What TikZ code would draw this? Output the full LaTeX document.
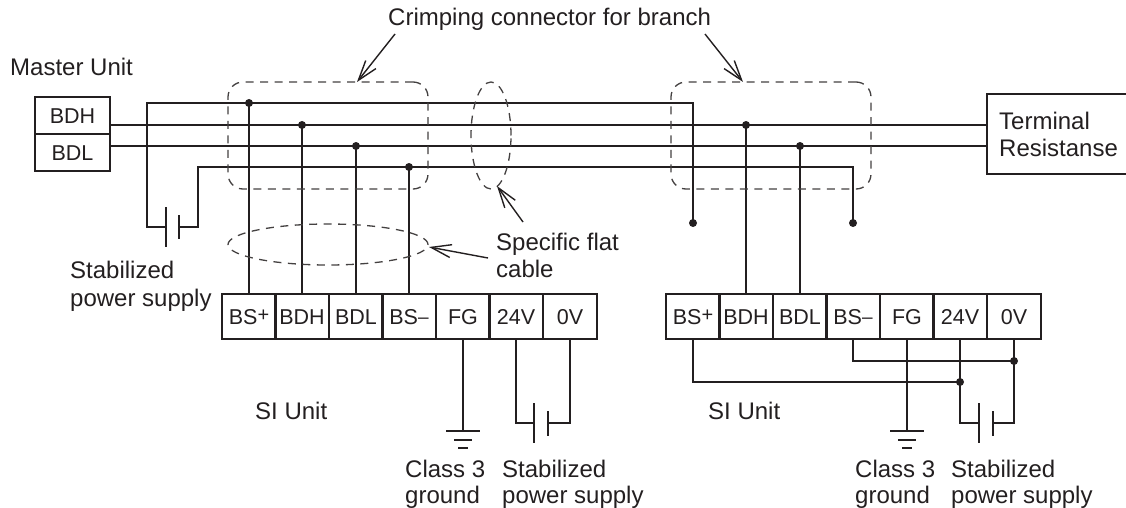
\documentclass[tikz,border=0pt]{standalone}
\usepackage{fontspec}
\setmainfont{Liberation Sans}
\usetikzlibrary{arrows.meta,shapes.geometric}
\definecolor{ink}{HTML}{231F20}
\tikzset{
  wire/.style={line width=2pt,draw=ink},
  dashbox/.style={draw=ink!85,line width=1.3pt,dash pattern=on 8pt off 6.5pt,inner sep=0pt},
  crimp/.style={dashbox,rectangle,rounded corners=15pt,minimum width=200pt,minimum height=107pt},
  oval/.style={dashbox,ellipse},
  pointer/.style={line width=1.4pt,draw=ink,-{Straight Barb[length=20pt,width=13pt,line width=1.4pt]}},
  joint/.style={circle,fill=ink,draw=none,inner sep=0pt,minimum size=8pt},
  lbl/.style={anchor=base west,inner sep=0pt,text=ink,font=\fontsize{24}{24}\selectfont},
  cell/.style={draw=ink,line width=2pt,rectangle,inner sep=0pt,text=ink,font=\fontsize{21.5}{21.5}\selectfont,
    text height=15.5pt,text depth=0pt,minimum height=45pt,minimum width=53.5pt},
  mcell/.style={cell,minimum width=75pt,minimum height=37pt},
  plate/.style={line width=2pt,draw=ink},
}
\newcommand{\bsplus}{BS\raisebox{2.5pt}{\fontsize{20}{20}\selectfont +}}
\newcommand{\bsminus}{BS\raisebox{0.5pt}{\fontsize{19}{19}\selectfont –}}
\begin{document}
\begin{tikzpicture}[x=1pt,y=-1pt]
\useasboundingbox (0,0) rectangle (1126,508);
% texts
\node[lbl] (tcrimp) at (388,26) {Crimping connector for branch};
\node[lbl] (tmaster) at (10,76) {Master Unit};
\node[lbl] (tstab1) at (70,278) {Stabilized};
\node[lbl] (tstab2) at (70,306) {power supply};
\node[lbl] (tflat1) at (496,250) {Specific flat};
\node[lbl] (tflat2) at (496,277) {cable};
\node[lbl] (tsi1) at (255,419) {SI Unit};
\node[lbl] (tsi2) at (708,419) {SI Unit};
\node[lbl] (tcl1a) at (405,477) {Class 3};
\node[lbl] (tcl1b) at (405,503) {ground};
\node[lbl] (tst1a) at (502,477) {Stabilized};
\node[lbl] (tst1b) at (502,503) {power supply};
\node[lbl] (tcl2a) at (855,477) {Class 3};
\node[lbl] (tcl2b) at (855,503) {ground};
\node[lbl] (tst2a) at (951,477) {Stabilized};
\node[lbl] (tst2b) at (951,503) {power supply};
% master and terminal resistance
\node[mcell] (mh) at (72.5,115.5) {BDH};
\node[mcell] (ml) at (72.5,152.5) {BDL};
\node[inner sep=0pt,minimum width=139pt,minimum height=80pt] (tr) at (1056.5,134) {};
\draw[wire] (tr.north east) -- (tr.north west) -- (tr.south west) -- (tr.south east);
\node[lbl] (tr1) at (999,129) {Terminal};
\node[lbl] (tr2) at (999,156) {Resistanse};
% terminal blocks
\foreach \n/\t/\x in {bsp/\bsplus/249,bdh/BDH/302,bdl/BDL/356,bsm/\bsminus/409,fg/FG/463,vp/24V/516,vz/0V/570}{
  \node[cell] (l\n) at (\x,316.5) {\t};
}
\foreach \n/\t/\x in {bsp/\bsplus/693,bdh/BDH/746,bdl/BDL/800,bsm/\bsminus/853,fg/FG/907,vp/24V/960,vz/0V/1014}{
  \node[cell] (r\n) at (\x,316.5) {\t};
}
% coordinates
\coordinate (w1a) at (147,103);
\coordinate (w1b) at (693,103);
\coordinate (w2a) at (110,125);
\coordinate (w2b) at (987,125);
\coordinate (w3a) at (110,146);
\coordinate (w3b) at (987,146);
\coordinate (w4a) at (198,167);
\coordinate (w4b) at (853,167);
% joints
\node[joint] (j1) at (249,103) {};
\node[joint] (j2) at (302,125) {};
\node[joint] (j3) at (356,146) {};
\node[joint] (j4) at (409,167) {};
\node[joint] (j5) at (746,125) {};
\node[joint] (j6) at (800,146) {};
\node[joint] (j7) at (693,223) {};
\node[joint] (j8) at (853,223) {};
\node[joint] (j9) at (1014,361) {};
\node[joint] (j10) at (960,382) {};
% bus
\draw[wire] (j7.center) -- (w1b) -- (w1a) -- (147,227) coordinate (b1a) -- (166,227) coordinate (b1p);
\draw[wire] (w2a) -- (w2b);
\draw[wire] (w3a) -- (w3b);
\draw[wire] (j8.center) -- (w4b) -- (w4a) -- (198,227) coordinate (b1b) -- (179,227) coordinate (b1q);
\draw[plate] (166,207) -- (166,247);
\draw[plate] (179,215) -- (179,239);
% drops
\draw[wire] (j1.center) -- (lbsp.north);
\draw[wire] (j2.center) -- (lbdh.north);
\draw[wire] (j3.center) -- (lbdl.north);
\draw[wire] (j4.center) -- (lbsm.north);
\draw[wire] (j5.center) -- (rbdh.north);
\draw[wire] (j6.center) -- (rbdl.north);
% left unit supply and ground
\draw[wire] (lvp.south) |- (534,423) coordinate (p1);
\draw[wire] (lvz.south) |- (548,423) coordinate (p2);
\draw[plate] (534,403) -- (534,443);
\draw[plate] (548,411) -- (548,436);
\draw[wire] (lfg.south) -- (463,431) coordinate (g1);
\draw[plate] (446,431) -- (480,431);
\draw[plate] (454,440) -- (472,440);
\draw[plate] (458,448) -- (468,448);
% right unit supply and ground
\draw[wire] (rvp.south) |- (979,423) coordinate (p3);
\draw[wire] (rvz.south) |- (993,423) coordinate (p4);
\draw[plate] (979,403) -- (979,443);
\draw[plate] (993,411) -- (993,436);
\draw[wire] (rfg.south) -- (907,431) coordinate (g2);
\draw[plate] (890,431) -- (924,431);
\draw[plate] (898,440) -- (916,440);
\draw[plate] (902,448) -- (912,448);
\draw[wire] (rbsm.south) |- (j9.center);
\draw[wire] (rbsp.south) |- (j10.center);
% dashed outlines
\node[crimp] (c1) at (328,135.5) {};
\node[crimp] (c2) at (771,135.5) {};
\node[oval,minimum width=200pt,minimum height=41pt] (e1) at (328,244.5) {};
\node[oval,minimum width=40pt,minimum height=107pt] (e2) at (491,135.5) {};
% pointers
\coordinate (a1) at (395,34);
\coordinate (a2) at (705,34);
\coordinate (a3) at (523,222);
\coordinate (a4) at (488,258);
\draw[pointer] (a1) -- (357,82);
\draw[pointer] (a2) -- (743,82);
\draw[pointer] (a3) -- (497,186);
\draw[pointer] (a4) -- (429,247);
\end{tikzpicture}
\end{document}
